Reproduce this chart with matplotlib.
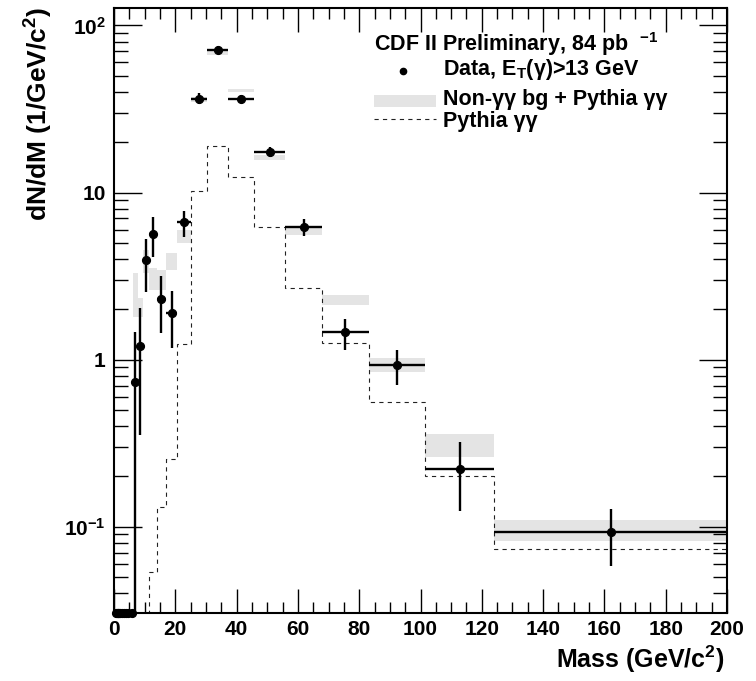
import numpy as np
import matplotlib
matplotlib.use("Agg")
import matplotlib.pyplot as plt
from matplotlib.patches import Rectangle
from matplotlib.lines import Line2D
from matplotlib.ticker import FixedLocator, MultipleLocator, FixedFormatter

plt.rcParams['font.family'] = ['Liberation Sans', 'DejaVu Sans']
plt.rcParams['font.weight'] = 'bold'
plt.rcParams['mathtext.fontset'] = 'custom'
plt.rcParams['mathtext.bf'] = 'Liberation Sans:bold'
plt.rcParams['mathtext.rm'] = 'Liberation Sans:bold'
plt.rcParams['mathtext.it'] = 'Liberation Sans:bold:italic'

# ---- data ----
bin_edges = [6.3, 7.7, 9.4, 11.5, 13.9, 16.9, 20.7, 25.1, 30.5, 37.3,
             45.7, 55.8, 67.9, 83.1, 101.5, 124.0, 200.0]
data_vals = [0.74, 1.21, 3.95, 5.68, 2.32, 1.90, 6.65, 36.5, 71.3, 36.4,
             17.5, 6.23, 1.46, 0.926, 0.222, 0.0925]
data_up = [1.47, 2.05, 5.28, 7.12, 3.18, 2.59, 7.8, 39.3, 74.8, 38.6,
           18.8, 6.93, 1.75, 1.14, 0.321, 0.127]
data_down = [0.0, 0.354, 2.55, 4.14, 1.44, 1.18, 5.41, 33.8, 67.8, 34.3,
             16.3, 5.5, 1.15, 0.706, 0.125, 0.058]
band_lo = [1.81, 1.81, 3.29, 2.61, 2.61, 3.44, 5.02, 35.0, 66.1, 39.7,
           15.6, 5.58, 2.12, 0.848, 0.262, 0.0824]
band_hi = [3.29, 2.33, 4.54, 3.54, 3.44, 4.34, 5.98, 37.5, 71.0, 41.8,
           16.8, 6.17, 2.44, 1.024, 0.359, 0.1096]
pythia = [0.0, 0.0, 0.0, 0.054, 0.132, 0.253, 1.24, 10.2, 19.0, 12.4,
          6.2, 2.68, 1.25, 0.558, 0.202, 0.074]
zero_mass = [0.8, 1.0, 1.2, 1.45, 1.75, 2.1, 2.6, 3.15, 3.85, 4.7, 5.75]
zero_counts = [0.0] * len(zero_mass)

xticks = [0, 20, 40, 60, 80, 100, 120, 140, 160, 180, 200]
yticks = [0.1, 1, 10, 100]
ytick_labels = [r'$\mathbf{10^{-1}}$', '1', '10', r'$\mathbf{10^{2}}$']

YMIN, YMAX = 0.0305, 128.0

W, H = 756, 681
fig = plt.figure(figsize=(W / 100, H / 100), dpi=100)
ax = fig.add_axes([114 / W, 1 - 613 / H, (727 - 114) / W, (613 - 7.5) / H])
ax.set_yscale('log', nonpositive='clip')
ax.set_xlim(0, 200)
ax.set_ylim(YMIN, YMAX)

edges = np.array(bin_edges)
centers = 0.5 * (edges[:-1] + edges[1:])
halfw = 0.5 * (edges[1:] - edges[:-1])
vals = np.array(data_vals)

gray = '#e4e4e4'
# background band
for i in range(len(centers)):
    ax.add_patch(Rectangle((edges[i], band_lo[i]), edges[i + 1] - edges[i],
                           band_hi[i] - band_lo[i], facecolor=gray,
                           edgecolor='none', zorder=1))

# pythia dashed histogram
py = np.array(pythia)
py_plot = np.where(py > 0, py, 1e-4)
ax.stairs(py_plot, edges, color='#222222', lw=0.8, linestyle=(0, (3.8, 3.8)),
          zorder=2, baseline=None)

# data
yerr = np.vstack([vals - np.maximum(np.array(data_down), 1e-6),
                  np.array(data_up) - vals])
ax.errorbar(centers, vals, xerr=halfw, yerr=yerr, fmt='o', color='black',
            ms=5.6, elinewidth=1.7, capsize=0, zorder=4)
zm = np.array(zero_mass)
ax.plot(zm, np.maximum(np.array(zero_counts), YMIN), 'o', color='black',
        ms=5.6, clip_on=False, zorder=5)

# ticks
ax.xaxis.set_major_locator(FixedLocator(xticks))
ax.xaxis.set_minor_locator(MultipleLocator(5))
ax.yaxis.set_major_locator(FixedLocator(yticks))
ax.yaxis.set_major_formatter(FixedFormatter(ytick_labels))
ax.tick_params(which='both', direction='in', top=True, right=True, width=1.0,
               labelsize=15)
ax.tick_params(which='major', length=17)
ax.tick_params(axis='x', which='minor', length=8)
ax.tick_params(axis='y', which='minor', length=10)
ax.tick_params(axis='y', which='major', length=20, pad=6)
ax.tick_params(axis='x', which='major', pad=5)
for s in ax.spines.values():
    s.set_linewidth(1.5)
for lab in ax.get_xticklabels() + ax.get_yticklabels():
    lab.set_fontweight('bold')

# axis labels
fig.text(724 / W, 1 - 668 / H, r'Mass (GeV/c$^{\mathbf{2}}$)', ha='right',
         va='baseline', fontsize=18, fontweight='bold')
fig.text(39 / W, 1 - 7 / H, r'dN/dM (1/GeV/c$^{\mathbf{2}}$)', ha='center',
         va='top', rotation=90, fontsize=19, fontweight='bold')

# legend
def P(x, y):
    return (x / W, 1 - y / H)

LFS = 15.5
fig.text(*P(374, 50.5), r'CDF II Preliminary, 84 pb  $^{\mathbf{-1}}$',
         fontsize=LFS, fontweight='bold', va='baseline', ha='left')
fig.text(*P(443, 74.5), r'Data, E$_{\mathbf{T}}$(γ)>13 GeV',
         fontsize=LFS, fontweight='bold', va='baseline', ha='left')
fig.text(*P(443, 105), 'Non-γγ bg + Pythia γγ',
         fontsize=LFS, fontweight='bold', va='baseline', ha='left')
fig.text(*P(443, 127.5), 'Pythia γγ',
         fontsize=LFS, fontweight='bold', va='baseline', ha='left')
fig.add_artist(Line2D([402.7 / W], [1 - 71.3 / H], marker='o', color='black',
                      ms=4.5, linestyle='none'))
fig.add_artist(Rectangle(P(374, 107), 62 / W, 12 / H, facecolor=gray,
                         edgecolor='none'))
fig.add_artist(Line2D([374 / W, 436 / W], [1 - 119.3 / H, 1 - 119.3 / H],
                      color='#222222', lw=0.8, linestyle=(0, (3.8, 3.8))))

fig.savefig('out.png', dpi=100)
